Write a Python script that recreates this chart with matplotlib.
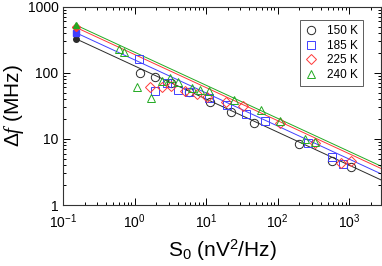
import numpy as np
import matplotlib
matplotlib.use("Agg")
import matplotlib.pyplot as plt
from matplotlib.ticker import LogLocator, FuncFormatter, NullFormatter

plt.rcParams["font.family"] = ["Liberation Sans", "DejaVu Sans"]
plt.rcParams["mathtext.fontset"] = "custom"
plt.rcParams["mathtext.rm"] = "Liberation Sans"
plt.rcParams["mathtext.it"] = "Liberation Serif:italic"

# S0 (nV^2/Hz) and delta f (MHz)
s0_150 = [1.19, 1.93, 3.24, 5.79, 11.2, 22.5, 47.3, 196, 581, 1074]
df_150 = [100, 87, 69, 51, 36.4, 25.6, 17.7, 8.45, 4.6, 3.77]

s0_185 = [1.16, 1.89, 2.82, 4.02, 5.70, 10.8, 19.6, 35.9, 65.9, 268, 581, 811]
df_185 = [160, 53.7, 69, 54.7, 51.9, 42.1, 33.0, 23.9, 18.7, 8.7, 5.4, 4.14]

s0_225 = [1.64, 2.40, 3.24, 5.09, 7.43, 10.4, 18.8, 32.8, 107, 333, 760, 1074]
df_225 = [60, 61.8, 62.9, 53.7, 48.4, 43.3, 36.4, 31.0, 17.6, 8.7, 4.39, 4.67]

s0_240 = [0.61, 0.718, 1.09, 1.68, 2.40, 3.07, 4.0, 6.32, 8.07, 10.8, 24.8, 57.9, 107, 238, 328]
df_240 = [226, 210, 60, 41.4, 76.2, 84.6, 73, 59.7, 54.7, 53.4, 38.6, 27.2, 18.7, 10.1, 9.0]

# fitted intercepts at S0 = 0.15 (filled symbols), slope -1/2
s0_ref = 0.15
df_ref = [327, 404, 487, 528]

labels = ["150 K", "185 K", "225 K", "240 K"]
colors = ["#2a2a2a", "#4040ff", "#ff3838", "#22aa22"]
markers = ["o", "s", "D", "^"]
msizes = [6, 5.5, 4.8, 6]

series = [(s0_150, df_150), (s0_185, df_185), (s0_225, df_225), (s0_240, df_240)]

fig = plt.figure(figsize=(3.82, 2.66), dpi=100)
ax = fig.add_axes([0.1657, 0.2293, 0.832, 0.7455])

xfit = np.logspace(np.log10(s0_ref), np.log10(2800), 50)
for (x, y), y0, c, m, ms, lab in zip(series, df_ref, colors, markers, msizes, labels):
    ax.plot(xfit, y0 * (xfit / s0_ref) ** -0.5, color=c, lw=0.7, zorder=1)
    ax.plot(x, y, ls="none", marker=m, ms=ms, mfc="none", mec=c, mew=0.7,
            label=lab, zorder=2)
    ax.plot([s0_ref], [y0], ls="none", marker=m, ms=4, color=c, zorder=3)

ax.set_xscale("log")
ax.set_yscale("log")
ax.set_xlim(0.1, 2800)
ax.set_ylim(1, 1000)

ax.xaxis.set_major_locator(LogLocator(base=10, numticks=10))
ax.xaxis.set_minor_locator(LogLocator(base=10, subs=np.arange(2, 10), numticks=20))
ax.yaxis.set_major_locator(LogLocator(base=10, numticks=10))
ax.yaxis.set_minor_locator(LogLocator(base=10, subs=np.arange(2, 10), numticks=20))
ax.yaxis.set_major_formatter(FuncFormatter(lambda v, p: "%g" % v))
ax.xaxis.set_minor_formatter(NullFormatter())
ax.yaxis.set_minor_formatter(NullFormatter())

ax.tick_params(which="both", direction="in", top=True, right=True,
               labelsize=10, width=0.7)
ax.tick_params(which="major", length=5)
ax.tick_params(which="minor", length=2.5)
ax.tick_params(axis="x", which="major", pad=5)
for s in ax.spines.values():
    s.set_linewidth(0.8)
    s.set_color("#333333")

ax.set_xlabel(r"S$_0$ (nV$^2$/Hz)", fontsize=15, labelpad=5)
ax.set_ylabel(r"$\Delta$$f$ (MHz)", fontsize=15)
ax.yaxis.set_label_coords(-0.118, 0.5)

leg = ax.legend(loc="upper right", bbox_to_anchor=(0.943, 0.934), fontsize=8.5,
                frameon=True, fancybox=False, handletextpad=0.8,
                borderpad=0.45, labelspacing=0.22, handlelength=1.0,
                borderaxespad=0)
leg.get_frame().set_edgecolor("#333333")
leg.get_frame().set_linewidth(0.7)

fig.savefig("out.png", dpi=100)
